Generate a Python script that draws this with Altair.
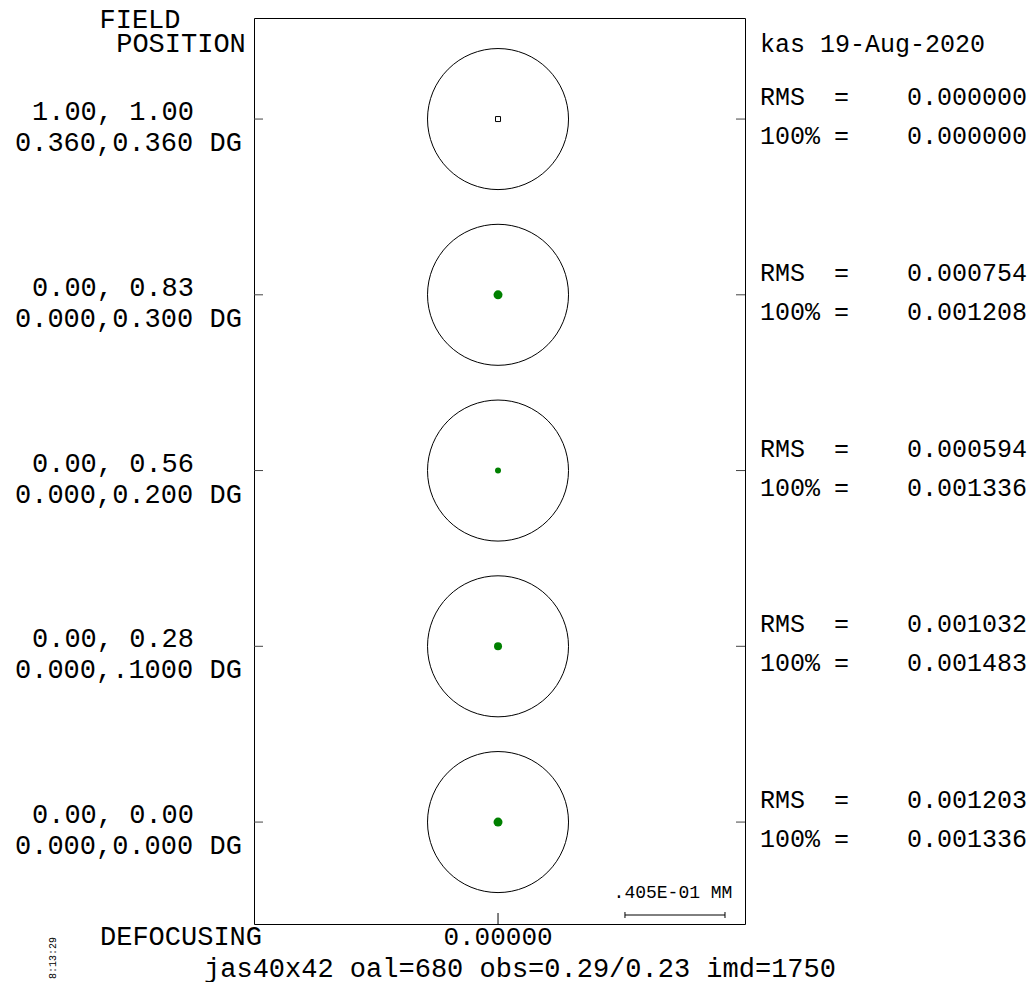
import altair as alt
import pandas as pd

# ---- data ----
field_idx = [0, 1, 2, 3, 4]
field_rel = ["1.00, 1.00", "0.00, 0.83", "0.00, 0.56", "0.00, 0.28", "0.00, 0.00"]
field_deg = ["0.360,0.360 DG", "0.000,0.300 DG", "0.000,0.200 DG", "0.000,.1000 DG", "0.000,0.000 DG"]
rms_vals = ["0.000000", "0.000754", "0.000594", "0.001032", "0.001203"]
pct100_vals = ["0.000000", "0.001208", "0.001336", "0.001483", "0.001336"]
spot_x_mm = [0.0, 0.0, 0.0, 0.0, 0.0]
spot_d_px = [5, 9, 6, 8, 9]
spot_kind = ["open", "dot", "dot", "dot", "dot"]
scale_bar_mm = 0.0405
scale_bar_start_mm = 0.0514
defocus_label = "0.00000"

FONT = "Liberation Mono"
W, H = 491, 906
xs = alt.Scale(domain=[-0.0988, 0.1000])
ys = alt.Scale(domain=[-0.575, 4.58], reverse=True)

df = pd.DataFrame({
    "f": field_idx, "rel": field_rel, "deg": field_deg,
    "rms": rms_vals, "p100": pct100_vals, "sx": spot_x_mm,
    "size": [d * d for d in spot_d_px], "kind": spot_kind,
})
base = alt.Chart(df)
X = alt.X("sx:Q", scale=xs, axis=None)
Y = alt.Y("f:Q", scale=ys, axis=None)

circles = base.mark_point(shape="circle", filled=False, size=141 * 141,
                          color="black", strokeWidth=1, opacity=1).encode(x=X, y=Y)
dots = base.transform_filter("datum.kind == 'dot'").mark_point(
    shape="circle", filled=True, color="#008000", opacity=1).encode(
    x=X, y=Y, size=alt.Size("size:Q", scale=None, legend=None))
opens = base.transform_filter("datum.kind == 'open'").mark_point(
    shape="square", filled=False, color="black", strokeWidth=1, opacity=1).encode(
    x=X, y=Y, size=alt.Size("size:Q", scale=None, legend=None))

lticks = base.mark_rule(color="#444", strokeWidth=1).encode(
    y=Y, x=alt.value(0), x2=alt.value(9))
rticks = base.mark_rule(color="#444", strokeWidth=1).encode(
    y=Y, x=alt.value(W - 9), x2=alt.value(W))

txt = dict(font=FONT, color="black", baseline="middle")
rel_t = base.mark_text(align="left", fontSize=27, dy=-7, **txt).encode(
    y=Y, x=alt.value(-222), text="rel:N")
deg_t = base.mark_text(align="left", fontSize=27, dy=24, **txt).encode(
    y=Y, x=alt.value(-239), text="deg:N")
rms_l = base.mark_text(align="left", fontSize=25, dy=-22, **txt).encode(
    y=Y, x=alt.value(506), text=alt.value("RMS"))
rms_e = base.mark_text(align="left", fontSize=25, dy=-22, **txt).encode(
    y=Y, x=alt.value(580), text=alt.value("="))
rms_v = base.mark_text(align="right", fontSize=25, dy=-22, **txt).encode(
    y=Y, x=alt.value(773), text="rms:N")
p_l = base.mark_text(align="left", fontSize=25, dy=17, **txt).encode(
    y=Y, x=alt.value(506), text=alt.value("100%"))
p_e = base.mark_text(align="left", fontSize=25, dy=17, **txt).encode(
    y=Y, x=alt.value(580), text=alt.value("="))
p_v = base.mark_text(align="right", fontSize=25, dy=17, **txt).encode(
    y=Y, x=alt.value(773), text="p100:N")

# scale bar
sb = pd.DataFrame({"a": [scale_bar_start_mm], "b": [scale_bar_start_mm + scale_bar_mm],
                   "lab": [".405E-01 MM"]})
sbase = alt.Chart(sb)
bar = sbase.mark_rule(color="black", strokeWidth=1).encode(
    x=alt.X("a:Q", scale=xs, axis=None), x2="b:Q", y=alt.value(897))
cap1 = sbase.mark_rule(color="black", strokeWidth=1).encode(
    x=alt.X("a:Q", scale=xs, axis=None), y=alt.value(894), y2=alt.value(900))
cap2 = sbase.mark_rule(color="black", strokeWidth=1).encode(
    x=alt.X("b:Q", scale=xs, axis=None), y=alt.value(894), y2=alt.value(900))
sblab = sbase.mark_text(align="center", fontSize=18, **txt).encode(
    x=alt.value(419), y=alt.value(875), text="lab:N")

# bottom axis tick and label at defocus 0
dd = pd.DataFrame({"x": [0.0], "lab": [defocus_label]})
dbase = alt.Chart(dd)
btick = dbase.mark_rule(color="black", strokeWidth=1).encode(
    x=alt.X("x:Q", scale=xs, axis=None), y=alt.value(H - 11), y2=alt.value(H))
blab = dbase.mark_text(align="center", fontSize=26, **txt).encode(
    x=alt.X("x:Q", scale=xs, axis=None), y=alt.value(919), text="lab:N")

# free annotations
ann = pd.DataFrame({
    "t": ["FIELD", "POSITION", "DEFOCUSING", "jas40x42 oal=680 obs=0.29/0.23 imd=1750",
          "kas 19-Aug-2020"],
    "px": [-114, -73, -73, 266, 506],
    "py": [2, 26, 919, 951, 26],
    "al": ["center", "center", "center", "center", "left"],
    "fs": [27, 27, 27, 27, 25],
})
anns = []
for _, r in ann.iterrows():
    anns.append(alt.Chart(pd.DataFrame({"t": [r.t]})).mark_text(
        align=r.al, fontSize=int(r.fs), **txt).encode(
        x=alt.value(int(r.px)), y=alt.value(int(r.py)), text="t:N"))
timel = alt.Chart(pd.DataFrame({"t": ["8:13:29"]})).mark_text(
    align="center", fontSize=10, angle=270, **txt).encode(
    x=alt.value(-201), y=alt.value(940), text="t:N")

chart = alt.layer(circles, dots, opens, lticks, rticks, rel_t, deg_t,
                  rms_l, rms_e, rms_v, p_l, p_e, p_v,
                  bar, cap1, cap2, sblab, btick, blab, timel, *anns).properties(
    width=W, height=H,
    padding={"left": 254, "top": 18, "right": 285, "bottom": 58},
    autosize=alt.AutoSizeParams(type="none"),
    background="white",
).configure_view(stroke="black", strokeWidth=1)

chart.save("out.html", embed_options={"renderer": "svg", "actions": False})
